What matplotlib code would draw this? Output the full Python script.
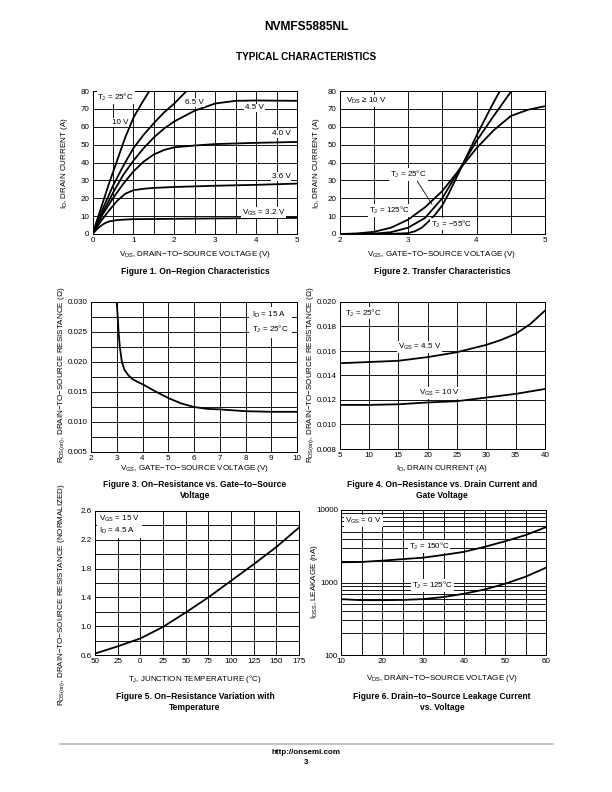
import numpy as np
import matplotlib
matplotlib.use("Agg")
import matplotlib.pyplot as plt

plt.rcParams['font.family'] = ['Liberation Sans', 'DejaVu Sans']
plt.rcParams['mathtext.fontset'] = 'custom'
plt.rcParams['mathtext.rm'] = 'Liberation Sans'
plt.rcParams['mathtext.it'] = 'Liberation Sans:italic'
plt.rcParams['mathtext.bf'] = 'Liberation Sans:bold'

# ---- Figure 1: on-region characteristics
f1_vgs10_x = [0, 0.1, 0.2, 0.4, 0.6, 0.8, 1.0, 1.2, 1.39]
f1_vgs10_y = [0, 7, 14, 28, 41, 54, 65, 73, 80]
f1_vgs65_x = [0, 0.25, 0.5, 0.75, 1.0, 1.25, 1.5, 1.75, 2.0, 2.3]
f1_vgs65_y = [0, 14, 27, 38, 48, 55.5, 62, 68, 73, 80]
f1_vgs45_x = [0, 0.25, 0.5, 0.75, 1.0, 1.25, 1.5, 1.75, 2.0, 2.5, 3.0, 3.5, 4.0, 5.0]
f1_vgs45_y = [0, 12, 23, 33, 41, 48, 54, 59, 63, 69, 73, 74.5, 74.7, 74.5]
f1_vgs40_x = [0, 0.25, 0.5, 0.75, 1.0, 1.25, 1.5, 1.75, 2.0, 2.5, 3.0, 4.0, 5.0]
f1_vgs40_y = [0, 11, 20, 28, 35, 40.5, 44.5, 47, 48.5, 49.5, 50.3, 51, 51.5]
f1_vgs36_x = [0, 0.2, 0.4, 0.6, 0.8, 1.0, 1.25, 1.5, 2, 3, 4, 5]
f1_vgs36_y = [0, 7, 13, 18.5, 22.5, 24.5, 25.3, 25.8, 26.3, 27, 27.5, 28.2]
f1_vgs32_x = [0, 0.1, 0.2, 0.3, 0.4, 0.6, 0.8, 1, 2, 3, 4, 5]
f1_vgs32_y = [0, 2.5, 4.5, 6, 7, 7.8, 8.1, 8.3, 8.5, 8.7, 8.9, 9]

# ---- Figure 2: transfer characteristics
f2_t125_x = [2.0, 2.25, 2.5, 2.75, 3.0, 3.25, 3.5, 3.75, 4.0, 4.25, 4.5, 4.75, 5.0]
f2_t125_y = [0, 0.3, 1.2, 3.5, 8, 15, 24, 36, 48, 58, 66, 69.5, 71.5]
f2_t25_x = [2.0, 2.5, 2.75, 3.0, 3.25, 3.5, 3.75, 4.0, 4.25, 4.51]
f2_t25_y = [0, 0.2, 1, 3.5, 9, 20, 36, 52, 66, 80]
f2_tm55_x = [2.0, 2.75, 3.0, 3.1, 3.2, 3.3, 3.4, 3.5, 3.6, 3.75, 4.0, 4.2, 4.34]
f2_tm55_y = [0, 0.05, 0.5, 1.5, 3.5, 7, 11, 16, 23, 35, 55, 70, 80]

# ---- Figure 3: Rds(on) vs Vgs
f3_vgs = [3.0, 3.03, 3.07, 3.12, 3.2, 3.3, 3.45, 3.6, 3.8, 4.0, 4.5, 5.0, 5.5,
          6.0, 6.5, 7.0, 8.0, 9.0, 10.0]
f3_rds = [0.030, 0.028, 0.025, 0.0225, 0.020, 0.0187, 0.0178, 0.0172, 0.0167,
          0.0163, 0.0151, 0.0140, 0.0131, 0.0125, 0.0122, 0.0121, 0.0118,
          0.0117, 0.0117]

# ---- Figure 4: Rds(on) vs Id
f4_id45 = [5, 7.5, 10, 12.5, 15, 17.5, 20, 22.5, 25, 27.5, 30, 32.5, 35, 37.5, 40]
f4_rds45 = [0.0150, 0.01505, 0.0151, 0.01515, 0.0152, 0.01535, 0.0155, 0.0157,
            0.0159, 0.0162, 0.0165, 0.0169, 0.0174, 0.0182, 0.0193]
f4_id10 = [5, 10, 15, 20, 25, 30, 35, 40]
f4_rds10 = [0.0116, 0.0116, 0.01165, 0.0118, 0.0119, 0.0122, 0.0125, 0.0129]

# ---- Figure 5: normalized Rds(on) vs Tj
f5_tj = [-50, -25, 0, 25, 50, 75, 100, 125, 150, 175]
f5_rn = [0.62, 0.72, 0.83, 0.99, 1.19, 1.40, 1.63, 1.86, 2.10, 2.37]
f5_ticklabels = ['50', '25', '0', '25', '50', '75', '100', '125', '150', '175']

# ---- Figure 6: leakage vs Vds
f6_vds = [10, 15, 20, 25, 30, 35, 40, 45, 50, 55, 60]
f6_i150 = [1900, 1920, 2000, 2100, 2200, 2400, 2650, 3100, 3700, 4500, 5800]
f6_i125 = [590, 570, 570, 575, 590, 630, 700, 800, 960, 1200, 1600]

W, H = 612, 792
fig = plt.figure(figsize=(8.5, 11), dpi=72)

FS = 8
LW = 1.8
WHITE = dict(fc='white', ec='none', pad=0.8)


def rect(l, t, r, b):
    return [l / W, 1 - b / H, (r - l) / W, (b - t) / H]


def ptxt(x, y, s, size=8.5, bold=True, rot=0):
    fig.text(x / W, 1 - y / H, s, ha='center', va='center', fontsize=size,
             fontweight='bold' if bold else 'normal', linespacing=1.2,
             rotation=rot)


def setup(ax, xlim, ylim, xstep, ystep, log=False):
    ax.set_xlim(*xlim)
    ax.set_ylim(*ylim)
    ax.set_xticks(np.arange(xlim[0], xlim[1] + xstep / 2, xstep))
    if not log:
        ax.set_yticks(np.arange(ylim[0], ylim[1] + ystep / 2, ystep))
    ax.grid(True, color='black', lw=0.9)
    ax.tick_params(length=0, labelsize=FS, pad=3)
    for s in ax.spines.values():
        s.set_linewidth(1.0)
    ax.set_axisbelow(True)


# header and footer
ptxt(306, 27, 'NVMFS5885NL', size=12)
ptxt(306, 57, 'TYPICAL CHARACTERISTICS', size=10)
fig.add_artist(plt.Line2D([60 / W, 553 / W], [1 - 744 / H, 1 - 744 / H],
                          color='#b0b0b0', lw=1.5))
ptxt(306, 752, 'http://onsemi.com', size=8)
ptxt(306, 763, '3', size=8)

# ---------------- Figure 1
ax1 = fig.add_axes(rect(92.5, 91, 297, 234))
setup(ax1, (0, 5), (0, 80), 0.5, 10)
ax1.set_xticklabels(['0', '', '1', '', '2', '', '3', '', '4', '', '5'])
for xs, ys in [(f1_vgs10_x, f1_vgs10_y), (f1_vgs65_x, f1_vgs65_y),
               (f1_vgs45_x, f1_vgs45_y), (f1_vgs40_x, f1_vgs40_y),
               (f1_vgs36_x, f1_vgs36_y), (f1_vgs32_x, f1_vgs32_y)]:
    ax1.plot(xs, ys, color='black', lw=LW, solid_capstyle='butt')
ax1.text(0.12, 76.5, r'T$\mathregular{_J}$ = 25°C', fontsize=FS, va='center', bbox=WHITE)
ax1.text(0.47, 62.5, '10 V', fontsize=FS, va='center', bbox=WHITE)
ax1.text(2.26, 73.5, '6.5 V', fontsize=FS, va='center', bbox=WHITE)
ax1.text(3.73, 70.5, '4.5 V', fontsize=FS, va='center', bbox=WHITE)
ax1.text(4.38, 56, '4.0 V', fontsize=FS, va='center', bbox=WHITE)
ax1.text(4.38, 32, '3.6 V', fontsize=FS, va='center', bbox=WHITE)
ax1.text(3.65, 12, r'V$\mathregular{_{GS}}$ = 3.2 V', fontsize=FS, va='center', bbox=WHITE)
ptxt(64, 163, r'I$\mathregular{_D}$, DRAIN CURRENT (A)', size=FS, bold=False, rot=90)
ptxt(195, 255, r'V$\mathregular{_{DS}}$, DRAIN−TO−SOURCE VOLTAGE (V)', size=FS, bold=False)
ptxt(195, 272, 'Figure 1. On−Region Characteristics')

# ---------------- Figure 2
ax2 = fig.add_axes(rect(339.5, 91, 545, 234))
setup(ax2, (2, 5), (0, 80), 0.5, 10)
ax2.set_xticklabels(['2', '', '3', '', '4', '', '5'])
for xs, ys in [(f2_t125_x, f2_t125_y), (f2_t25_x, f2_t25_y), (f2_tm55_x, f2_tm55_y)]:
    ax2.plot(xs, ys, color='black', lw=LW)
ax2.text(2.10, 74.5, r'V$\mathregular{_{DS}}$ ≥ 10 V', fontsize=FS, va='center', bbox=WHITE)
ax2.text(2.74, 33.3, r'T$\mathregular{_J}$ = 25°C', fontsize=FS, va='center', bbox=WHITE)
ax2.text(2.43, 13, r'T$\mathregular{_J}$ = 125°C', fontsize=FS, va='center', bbox=WHITE)
ax2.text(3.33, 5.6, r'T$\mathregular{_J}$ = −55°C', fontsize=FS, va='center', bbox=WHITE)
ax2.plot([3.12, 3.35], [30.5, 16.7], color='black', lw=0.8)
ptxt(316, 163, r'I$\mathregular{_D}$, DRAIN CURRENT (A)', size=FS, bold=False, rot=90)
ptxt(442, 255, r'V$\mathregular{_{GS}}$, GATE−TO−SOURCE VOLTAGE (V)', size=FS, bold=False)
ptxt(442, 272, 'Figure 2. Transfer Characteristics')

# ---------------- Figure 3
ax3 = fig.add_axes(rect(91, 302, 297, 452))
setup(ax3, (2, 10), (0.005, 0.030), 1, 0.0025)
ax3.set_yticklabels(['0.005', '', '0.010', '', '0.015', '', '0.020', '',
                     '0.025', '', '0.030'])
ax3.plot(f3_vgs, f3_rds, color='black', lw=LW)
ax3.text(8.25, 0.0266, r'I$\mathregular{_D}$ = 15 A' + '\n' + r'T$\mathregular{_J}$ = 25°C',
         fontsize=FS, va='center', linespacing=1.5,
         bbox=dict(fc='white', ec='none', pad=3))
ptxt(62, 375, r'R$\mathregular{_{DS(on)}}$, DRAIN−TO−SOURCE RESISTANCE (Ω)',
     size=FS, bold=False, rot=90)
ptxt(195, 468, r'V$\mathregular{_{GS}}$, GATE−TO−SOURCE VOLTAGE (V)', size=FS, bold=False)
ptxt(195, 490, 'Figure 3. On−Resistance vs. Gate−to−Source\nVoltage')

# ---------------- Figure 4
ax4 = fig.add_axes(rect(339.5, 302, 545, 449))
setup(ax4, (5, 40), (0.008, 0.020), 5, 0.002)
ax4.yaxis.set_major_formatter(plt.FormatStrFormatter('%.3f'))
ax4.plot(f4_id45, f4_rds45, color='black', lw=LW)
ax4.plot(f4_id10, f4_rds10, color='black', lw=LW)
ax4.text(5.9, 0.0191, r'T$\mathregular{_J}$ = 25°C', fontsize=FS, va='center', bbox=WHITE)
ax4.text(15.0, 0.0163, r'V$\mathregular{_{GS}}$ = 4.5 V', fontsize=FS, va='center', bbox=WHITE)
ax4.text(18.6, 0.0126, r'V$\mathregular{_{GS}}$ = 10 V', fontsize=FS, va='center', bbox=WHITE)
ptxt(311, 375, r'R$\mathregular{_{DS(on)}}$, DRAIN−TO−SOURCE RESISTANCE (Ω)',
     size=FS, bold=False, rot=90)
ptxt(442, 468, r'I$\mathregular{_D}$, DRAIN CURRENT (A)', size=FS, bold=False)
ptxt(442, 490, 'Figure 4. On−Resistance vs. Drain Current and\nGate Voltage')

# ---------------- Figure 5
ax5 = fig.add_axes(rect(95, 511, 299, 655))
setup(ax5, (-50, 175), (0.6, 2.6), 25, 0.2)
ax5.set_xticklabels(f5_ticklabels)
ax5.set_yticklabels(['0.6', '', '1.0', '', '1.4', '', '1.8', '', '2.2', '', '2.6'])
ax5.plot(f5_tj, f5_rn, color='black', lw=LW)
ax5.text(-45.5, 2.41, r'V$\mathregular{_{GS}}$ = 15 V' + '\n' + r'I$\mathregular{_D}$ = 4.5 A',
         fontsize=FS, va='center', linespacing=1.2,
         bbox=dict(fc='white', ec='none', pad=2))
ptxt(62, 595, r'R$\mathregular{_{DS(on)}}$, DRAIN−TO−SOURCE RESISTANCE (NORMALIZED)',
     size=FS, bold=False, rot=90)
ptxt(195, 679, r'T$\mathregular{_J}$, JUNCTION TEMPERATURE (°C)', size=FS, bold=False)
ptxt(195, 702, 'Figure 5. On−Resistance Variation with\nTemperature')

# ---------------- Figure 6
ax6 = fig.add_axes(rect(341, 510, 546, 655))
ax6.set_yscale('log')
setup(ax6, (10, 60), (100, 10000), 5, None, log=True)
ax6.set_xticklabels(['10', '', '20', '', '30', '', '40', '', '50', '', '60'])
ax6.set_yticks([100, 1000, 10000])
ax6.set_yticklabels(['100', '1000', '10000'])
ax6.yaxis.set_minor_locator(matplotlib.ticker.LogLocator(base=10, subs=np.arange(2, 10)))
ax6.yaxis.set_minor_formatter(matplotlib.ticker.NullFormatter())
ax6.grid(True, which='minor', axis='y', color='black', lw=0.9)
ax6.tick_params(which='minor', length=0)
ax6.plot(f6_vds, f6_i150, color='black', lw=LW)
ax6.plot(f6_vds, f6_i125, color='black', lw=LW)
ax6.text(11, 7070, r'V$\mathregular{_{GS}}$ = 0 V', fontsize=FS, va='center', bbox=WHITE)
ax6.text(26.5, 3100, r'T$\mathregular{_J}$ = 150°C', fontsize=FS, va='center', bbox=WHITE)
ax6.text(27.3, 910, r'T$\mathregular{_J}$ = 125°C', fontsize=FS, va='center', bbox=WHITE)
ptxt(315, 582, r'I$\mathregular{_{DSS}}$, LEAKAGE (nA)', size=FS, bold=False, rot=90)
ptxt(442, 679, r'V$\mathregular{_{DS}}$, DRAIN−TO−SOURCE VOLTAGE (V)', size=FS, bold=False)
ptxt(442, 702, 'Figure 6. Drain−to−Source Leakage Current\nvs. Voltage')

fig.savefig('out.png', dpi=72)
